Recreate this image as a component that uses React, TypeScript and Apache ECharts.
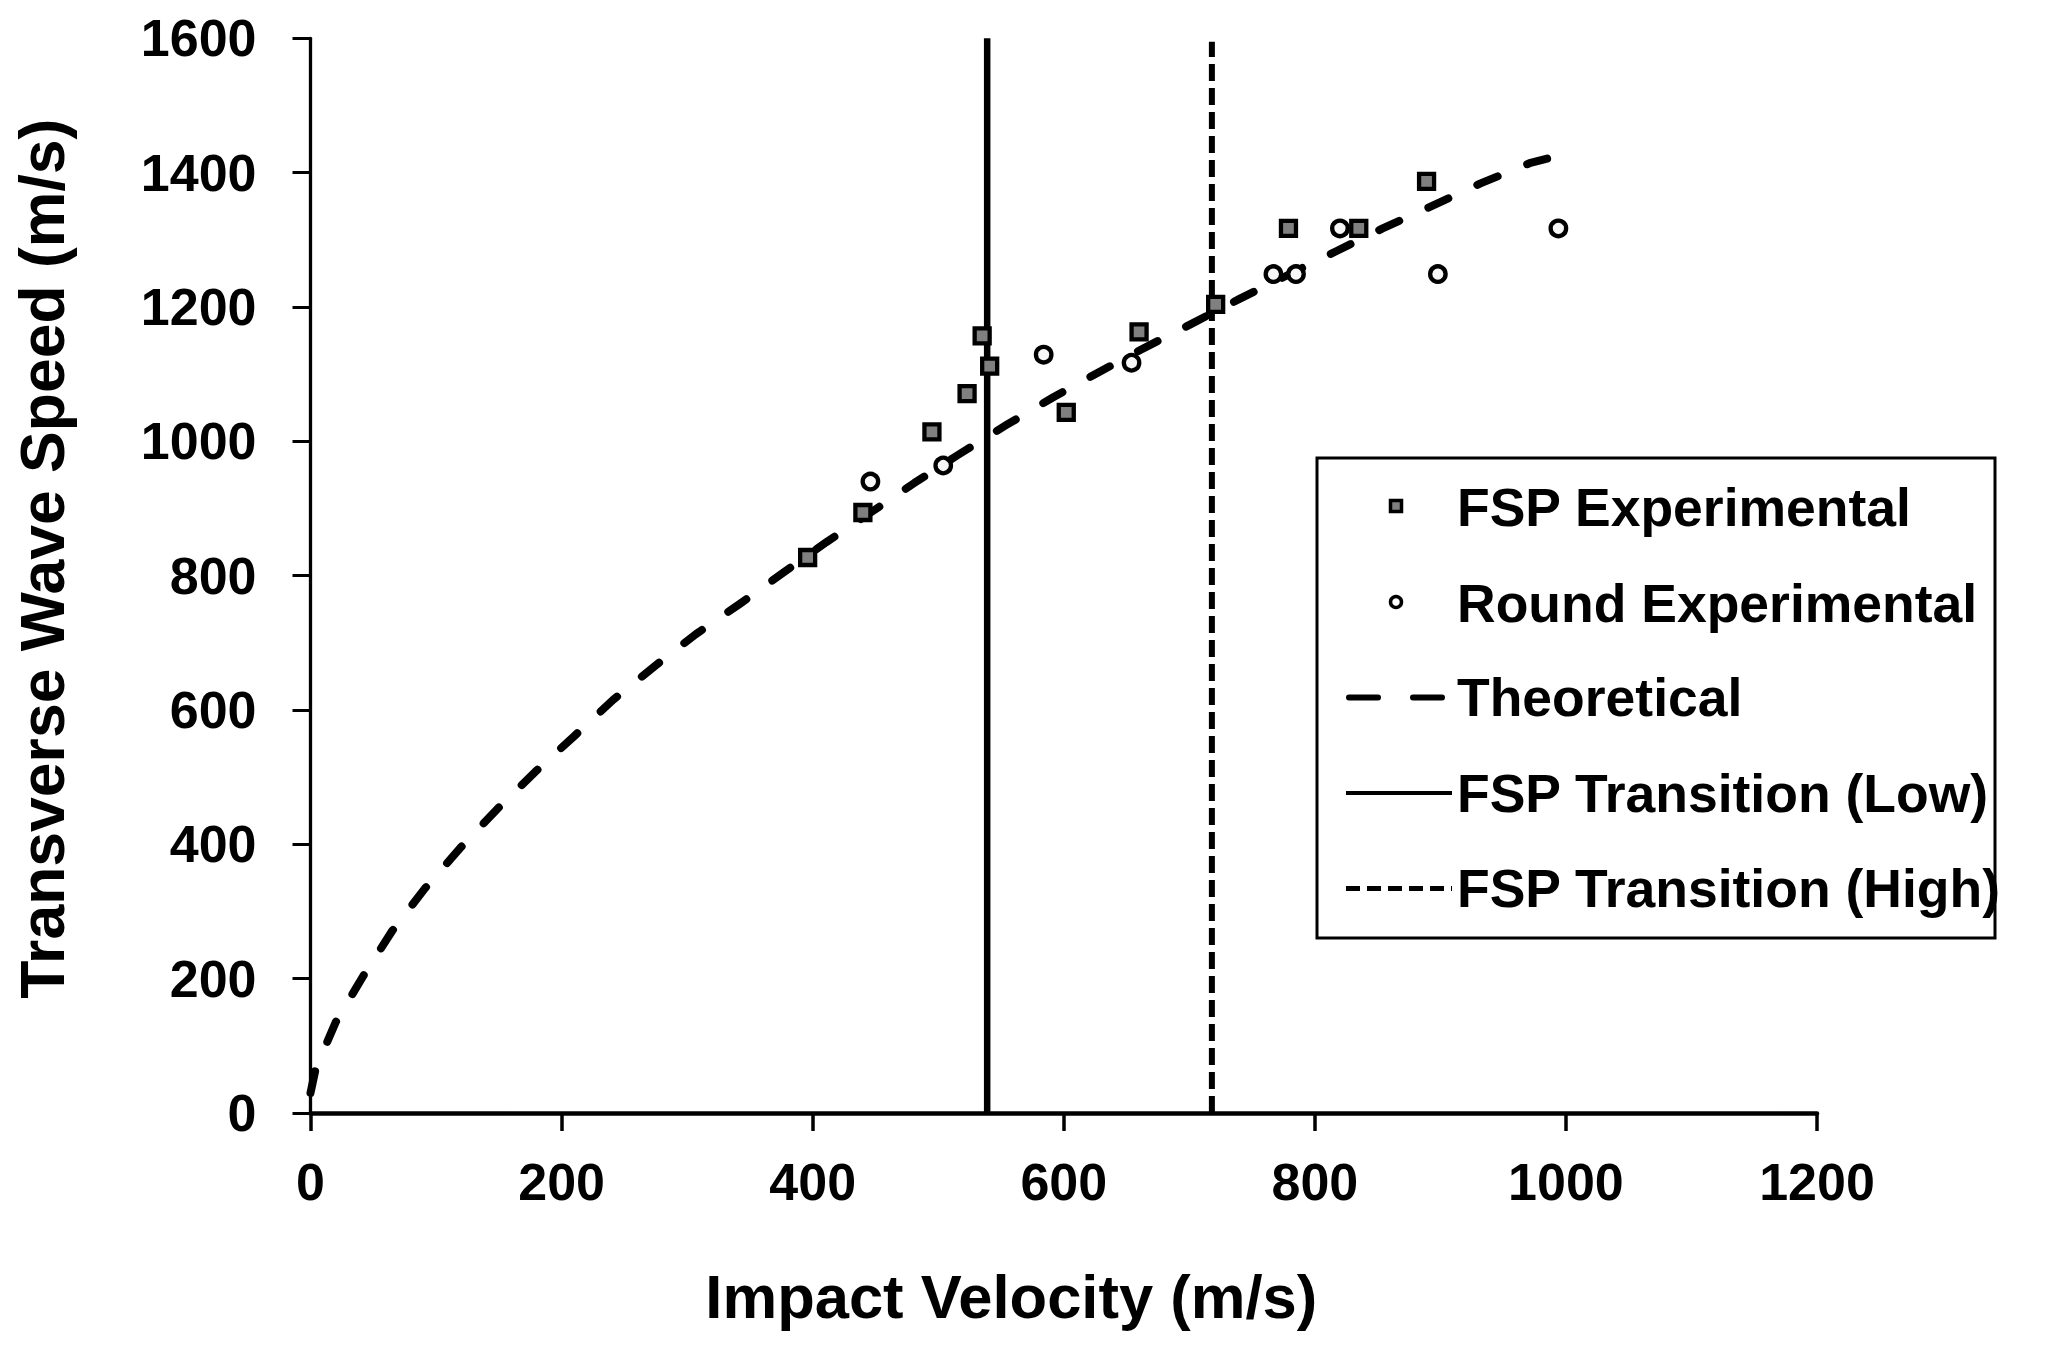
import React, { useEffect, useRef } from "react";
import * as echarts from "echarts";

const xTicks = [0, 200, 400, 600, 800, 1000, 1200];
const yTicks = [0, 200, 400, 600, 800, 1000, 1200, 1400, 1600];

const fspExperimental: [number, number][] = [
  [396, 827], [440, 894], [495, 1014], [523, 1071], [535, 1157], [541, 1112],
  [602, 1043], [660, 1163], [721, 1204], [779, 1317], [835, 1317], [889, 1387],
];

const roundExperimental: [number, number][] = [
  [446, 940], [504, 964], [584, 1129], [654, 1117], [767, 1249], [785, 1249],
  [820, 1317], [898, 1249], [994, 1317],
];

const theoretical: [number, number][] = [
  [0, 30], [4, 65], [20, 135], [42, 204], [65, 271], [91, 334], [119, 394],
  [149, 453], [179, 508], [210, 561], [241, 615], [274, 665], [307, 713],
  [342, 758], [377, 805], [411, 850], [451, 900], [481, 938], [516, 980],
  [554, 1024], [592, 1066], [629, 1104], [661, 1136], [704, 1177], [740, 1212],
  [779, 1248], [817, 1283], [854, 1317], [893, 1350], [932, 1384], [971, 1414],
  [985, 1421],
];

const transitionLow: [number, number][] = [[539, 0], [539, 1600]];
const transitionHigh: [number, number][] = [[718, 0], [718, 1595]];

const legendLabels = [
  "FSP Experimental",
  "Round Experimental",
  "Theoretical",
  "FSP Transition (Low)",
  "FSP Transition (High)",
];

const FONT = '"Liberation Sans", Arial, Helvetica, sans-serif';

export default function App() {
  const ref = useRef<HTMLDivElement>(null);

  useEffect(() => {
    document.body.style.margin = "0";
    if (!ref.current) return;
    const chart = echarts.init(ref.current, undefined, { renderer: "svg" });

    const rowY = [507, 603, 697.5, 793, 888.5];
    const textX = 1457;
    const symX = 1396;
    const lx1 = 1346;
    const lx2 = 1452;

    const legendGraphic: any[] = [
      {
        type: "rect",
        shape: { x: 1317, y: 458, width: 678, height: 480 },
        style: { fill: "#fff", stroke: "#000", lineWidth: 3 },
        z: 100,
      },
      {
        type: "rect",
        shape: { x: symX - 5.5, y: rowY[0] - 6.5, width: 11, height: 11 },
        style: { fill: "#808080", stroke: "#000", lineWidth: 3.5 },
        z: 101,
      },
      {
        type: "circle",
        shape: { cx: symX, cy: rowY[1] - 1, r: 5.5 },
        style: { fill: "#fff", stroke: "#000", lineWidth: 3.5 },
        z: 101,
      },
      {
        type: "line",
        shape: { x1: lx1 + 3, y1: rowY[2], x2: lx1 + 32, y2: rowY[2] },
        style: { stroke: "#000", lineWidth: 6, lineCap: "round" },
        z: 101,
      },
      {
        type: "line",
        shape: { x1: lx1 + 67, y1: rowY[2], x2: lx1 + 96, y2: rowY[2] },
        style: { stroke: "#000", lineWidth: 6, lineCap: "round" },
        z: 101,
      },
      {
        type: "line",
        shape: { x1: lx1, y1: rowY[3], x2: lx2, y2: rowY[3] },
        style: { stroke: "#000", lineWidth: 4 },
        z: 101,
      },
      {
        type: "line",
        shape: { x1: lx1, y1: rowY[4], x2: lx2, y2: rowY[4] },
        style: { stroke: "#000", lineWidth: 5, lineDash: [14, 7] },
        z: 101,
      },
      ...legendLabels.map((t, i) => ({
        type: "text",
        x: textX,
        y: rowY[i],
        style: {
          text: t,
          fill: "#000",
          font: `bold 53.5px ${FONT}`,
          textAlign: "left",
          textVerticalAlign: "middle",
        },
        z: 101,
      })),
    ];

    const plain = (v: number) => String(v);

    chart.setOption({
      animation: false,
      backgroundColor: "#fff",
      textStyle: { fontFamily: FONT, color: "#000" },
      grid: { left: 310.5, right: 234, top: 38.3, bottom: 237, containLabel: false },
      xAxis: {
        type: "value",
        min: xTicks[0],
        max: xTicks[xTicks.length - 1],
        interval: 200,
        name: "Impact Velocity (m/s)",
        nameLocation: "middle",
        nameGap: 152,
        nameTextStyle: {
          fontSize: 61.5,
          fontWeight: "bold",
          color: "#000",
          fontFamily: FONT,
          padding: [0, 105, 0, 0],
        },
        axisLine: { show: true, onZero: false, lineStyle: { color: "#000", width: 4.5 } },
        axisTick: { show: true, length: 18, lineStyle: { color: "#000", width: 3.5 } },
        axisLabel: {
          fontSize: 52,
          fontWeight: "bold",
          color: "#000",
          fontFamily: FONT,
          margin: 43,
          formatter: plain,
        },
        splitLine: { show: false },
      },
      yAxis: {
        type: "value",
        min: yTicks[0],
        max: yTicks[yTicks.length - 1],
        interval: 200,
        name: "Transverse Wave Speed (m/s)",
        nameLocation: "middle",
        nameGap: 237,
        nameRotate: 90,
        nameTextStyle: {
          fontSize: 62.5,
          fontWeight: "bold",
          color: "#000",
          fontFamily: FONT,
          padding: [0, 0, 0, 34],
        },
        axisLine: { show: true, onZero: false, lineStyle: { color: "#000", width: 3.3 } },
        axisTick: { show: true, length: 18, lineStyle: { color: "#000", width: 3 } },
        axisLabel: {
          fontSize: 52,
          fontWeight: "bold",
          color: "#000",
          fontFamily: FONT,
          margin: 54,
          formatter: plain,
        },
        splitLine: { show: false },
      },
      series: [
        {
          name: "Theoretical",
          type: "line",
          data: theoretical,
          showSymbol: false,
          smooth: false,
          lineStyle: { color: "#000", width: 8, type: [22, 32], cap: "round", join: "round" },
          z: 2,
        },
        {
          name: "FSP Transition (Low)",
          type: "line",
          data: transitionLow,
          showSymbol: false,
          lineStyle: { color: "#000", width: 6.5 },
          z: 2,
        },
        {
          name: "FSP Transition (High)",
          type: "line",
          data: transitionHigh,
          showSymbol: false,
          lineStyle: { color: "#000", width: 6, type: [17, 7] },
          z: 2,
        },
        {
          name: "FSP Experimental",
          type: "scatter",
          data: fspExperimental,
          symbol: "rect",
          symbolSize: 15,
          itemStyle: { color: "#808080", borderColor: "#000", borderWidth: 4.3, opacity: 1 },
          z: 5,
        },
        {
          name: "Round Experimental",
          type: "scatter",
          data: roundExperimental,
          symbol: "circle",
          symbolSize: 15.5,
          itemStyle: { color: "#f7f7f7", borderColor: "#000", borderWidth: 4.3, opacity: 1 },
          z: 5,
        },
      ],
      graphic: legendGraphic,
    });

    return () => {
      chart.dispose();
    };
  }, []);

  return <div ref={ref} style={{ width: 2051, height: 1350 }} />;
}
